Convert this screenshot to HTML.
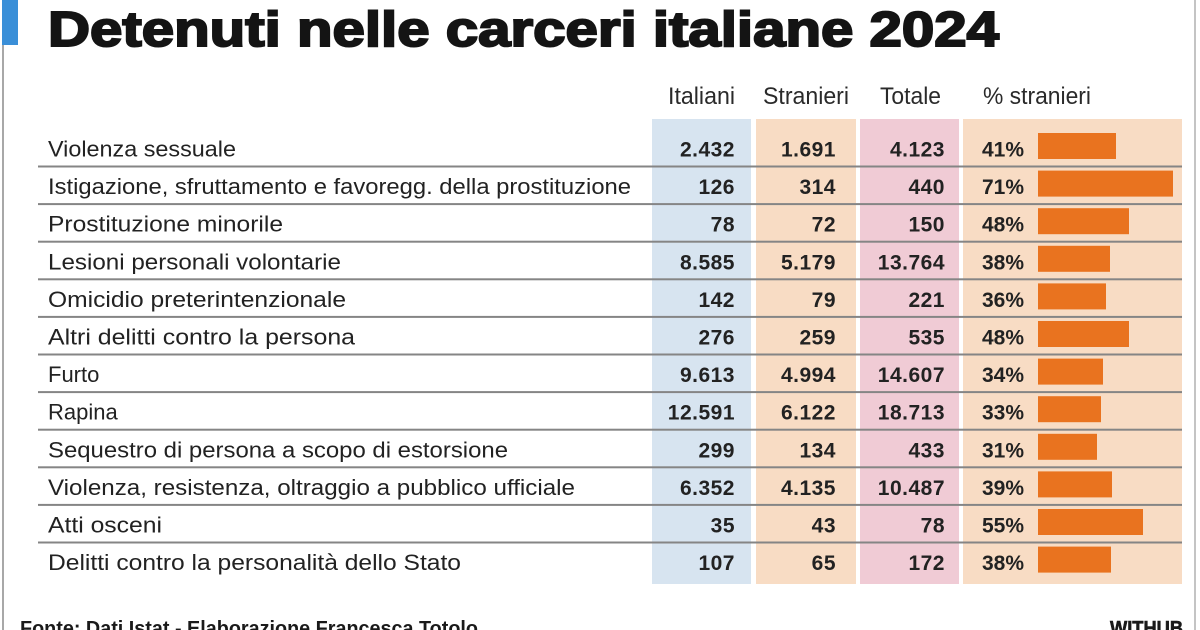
<!DOCTYPE html>
<html>
<head>
<meta charset="utf-8">
<style>
html,body{margin:0;padding:0;background:#fff;}
svg{display:block;}
</style>
</head>
<body>
<svg width="1200" height="630" viewBox="0 0 1200 630" xmlns="http://www.w3.org/2000/svg" font-family="'Liberation Sans', sans-serif">
  <rect x="0" y="0" width="1200" height="630" fill="#ffffff"/>
  <!-- frame lines -->
  <rect x="2" y="45" width="2" height="585" fill="#a8a8a8"/>
  <rect x="1194" y="0" width="2" height="630" fill="#c4c4c4"/>
  <rect x="2" y="0" width="16" height="45" fill="#3a8fd8"/>

  <!-- title -->
  <text x="48" y="46" font-size="49" font-weight="bold" fill="#141414" stroke="#141414" stroke-width="2" textLength="951" lengthAdjust="spacingAndGlyphs">Detenuti nelle carceri italiane 2024</text>

  <!-- headers -->
  <g font-size="24" fill="#2a2a2a">
    <text x="668" y="104" textLength="67" lengthAdjust="spacingAndGlyphs">Italiani</text>
    <text x="763" y="104" textLength="86" lengthAdjust="spacingAndGlyphs">Stranieri</text>
    <text x="880" y="104" textLength="61" lengthAdjust="spacingAndGlyphs">Totale</text>
    <text x="983" y="104" textLength="108" lengthAdjust="spacingAndGlyphs">% stranieri</text>
  </g>

  <!-- column backgrounds -->
  <rect x="652" y="119" width="99" height="465" fill="#d7e4f0"/>
  <rect x="756" y="119" width="100" height="465" fill="#f8dcc4"/>
  <rect x="860" y="119" width="99" height="465" fill="#f0cbd5"/>
  <rect x="963" y="119" width="219" height="465" fill="#f8dcc4"/>

  <!-- row separators -->
  <g fill="#858585">
    <rect x="38" y="165.5" width="1144" height="2"/>
    <rect x="38" y="203.1" width="1144" height="2"/>
    <rect x="38" y="240.7" width="1144" height="2"/>
    <rect x="38" y="278.3" width="1144" height="2"/>
    <rect x="38" y="315.9" width="1144" height="2"/>
    <rect x="38" y="353.5" width="1144" height="2"/>
    <rect x="38" y="391.1" width="1144" height="2"/>
    <rect x="38" y="428.7" width="1144" height="2"/>
    <rect x="38" y="466.3" width="1144" height="2"/>
    <rect x="38" y="503.9" width="1144" height="2"/>
    <rect x="38" y="541.5" width="1144" height="2"/>
  </g>

  <!-- bars -->
  <g fill="#e9731f">
    <rect x="1038" y="133" width="78" height="26"/>
    <rect x="1038" y="170.6" width="135" height="26"/>
    <rect x="1038" y="208.2" width="91" height="26"/>
    <rect x="1038" y="245.8" width="72" height="26"/>
    <rect x="1038" y="283.4" width="68" height="26"/>
    <rect x="1038" y="321" width="91" height="26"/>
    <rect x="1038" y="358.6" width="65" height="26"/>
    <rect x="1038" y="396.2" width="63" height="26"/>
    <rect x="1038" y="433.8" width="59" height="26"/>
    <rect x="1038" y="471.4" width="74" height="26"/>
    <rect x="1038" y="509" width="105" height="26"/>
    <rect x="1038" y="546.6" width="73" height="26"/>
  </g>

  <!-- row labels -->
  <g font-size="22" fill="#222">
    <text x="48" y="156.5" textLength="188" lengthAdjust="spacingAndGlyphs">Violenza sessuale</text>
    <text x="48" y="194.1" textLength="583" lengthAdjust="spacingAndGlyphs">Istigazione, sfruttamento e favoregg. della prostituzione</text>
    <text x="48" y="231.7" textLength="235" lengthAdjust="spacingAndGlyphs">Prostituzione minorile</text>
    <text x="48" y="269.3" textLength="293" lengthAdjust="spacingAndGlyphs">Lesioni personali volontarie</text>
    <text x="48" y="306.9" textLength="298" lengthAdjust="spacingAndGlyphs">Omicidio preterintenzionale</text>
    <text x="48" y="344.5" textLength="307" lengthAdjust="spacingAndGlyphs">Altri delitti contro la persona</text>
    <text x="48" y="382.1">Furto</text>
    <text x="48" y="419.7">Rapina</text>
    <text x="48" y="457.3" textLength="460" lengthAdjust="spacingAndGlyphs">Sequestro di persona a scopo di estorsione</text>
    <text x="48" y="494.9" textLength="527" lengthAdjust="spacingAndGlyphs">Violenza, resistenza, oltraggio a pubblico ufficiale</text>
    <text x="48" y="532.5" textLength="114" lengthAdjust="spacingAndGlyphs">Atti osceni</text>
    <text x="48" y="570.1" textLength="413" lengthAdjust="spacingAndGlyphs">Delitti contro la personalità dello Stato</text>
  </g>

  <!-- numbers -->
  <g font-size="21" font-weight="bold" fill="#222" text-anchor="end" letter-spacing="0.5">
    <text x="735" y="156.5">2.432</text><text x="836" y="156.5">1.691</text><text x="945" y="156.5">4.123</text>
    <text x="735" y="194.1">126</text><text x="836" y="194.1">314</text><text x="945" y="194.1">440</text>
    <text x="735" y="231.7">78</text><text x="836" y="231.7">72</text><text x="945" y="231.7">150</text>
    <text x="735" y="269.3">8.585</text><text x="836" y="269.3">5.179</text><text x="945" y="269.3">13.764</text>
    <text x="735" y="306.9">142</text><text x="836" y="306.9">79</text><text x="945" y="306.9">221</text>
    <text x="735" y="344.5">276</text><text x="836" y="344.5">259</text><text x="945" y="344.5">535</text>
    <text x="735" y="382.1">9.613</text><text x="836" y="382.1">4.994</text><text x="945" y="382.1">14.607</text>
    <text x="735" y="419.7">12.591</text><text x="836" y="419.7">6.122</text><text x="945" y="419.7">18.713</text>
    <text x="735" y="457.3">299</text><text x="836" y="457.3">134</text><text x="945" y="457.3">433</text>
    <text x="735" y="494.9">6.352</text><text x="836" y="494.9">4.135</text><text x="945" y="494.9">10.487</text>
    <text x="735" y="532.5">35</text><text x="836" y="532.5">43</text><text x="945" y="532.5">78</text>
    <text x="735" y="570.1">107</text><text x="836" y="570.1">65</text><text x="945" y="570.1">172</text>
  </g>
  <g font-size="21" font-weight="bold" fill="#222">
    <text x="982" y="156.5">41%</text>
    <text x="982" y="194.1">71%</text>
    <text x="982" y="231.7">48%</text>
    <text x="982" y="269.3">38%</text>
    <text x="982" y="306.9">36%</text>
    <text x="982" y="344.5">48%</text>
    <text x="982" y="382.1">34%</text>
    <text x="982" y="419.7">33%</text>
    <text x="982" y="457.3">31%</text>
    <text x="982" y="494.9">39%</text>
    <text x="982" y="532.5">55%</text>
    <text x="982" y="570.1">38%</text>
  </g>

  <!-- footer -->
  <text x="20" y="635" font-size="20" font-weight="bold" fill="#1a1a1a" textLength="458" lengthAdjust="spacingAndGlyphs">Fonte: Dati Istat - Elaborazione Francesca Totolo</text>
  <text x="1110" y="635" font-size="20" font-weight="bold" fill="#1a1a1a" stroke="#1a1a1a" stroke-width="0.6" textLength="73" lengthAdjust="spacingAndGlyphs">WITHUB</text>
</svg>
</body>
</html>
